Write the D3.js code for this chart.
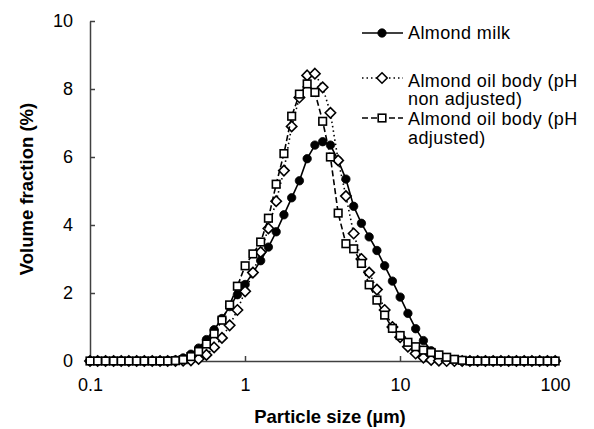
<!DOCTYPE html>
<html>
<head>
<meta charset="utf-8">
<script src="https://cdn.jsdelivr.net/npm/d3@7"></script>
<style>
  body { margin: 0; background: #fff; }
  text { font-family: "Liberation Sans", Arial, sans-serif; fill: #000; }
</style>
</head>
<body>
<svg id="chart" width="594" height="429"></svg>
<script>

// particle size classes (µm)
const sizes = [ 0.100, 0.112, 0.126, 0.142, 0.159, 0.178, 0.200, 0.224, 0.252, 0.283,
  0.317, 0.356, 0.399, 0.448, 0.502, 0.564, 0.632, 0.710, 0.796, 0.893,
  1.002, 1.125, 1.262, 1.416, 1.589, 1.783, 2.000, 2.244, 2.518, 2.825,
  3.170, 3.557, 3.991, 4.477, 5.024, 5.637, 6.325, 7.096, 7.962, 8.934,
  10.024, 11.247, 12.619, 14.159, 15.887, 17.825, 20.000, 22.440, 25.179, 28.251,
  31.698, 35.566, 39.905, 44.774, 50.238, 56.368, 63.246, 70.963, 79.621, 89.337,
  100.237 ];

const almondMilk = [ 0, 0, 0, 0, 0, 0, 0, 0, 0, 0,
  0.01, 0.03, 0.09, 0.2, 0.38, 0.63, 0.92, 1.25, 1.6, 1.95,
  2.25, 2.6, 2.95, 3.35, 3.8, 4.3, 4.8, 5.3, 5.95, 6.35,
  6.45, 6.35, 5.9, 5.35, 4.55, 4.05, 3.65, 3.25, 2.8, 2.35,
  1.88, 1.4, 0.95, 0.6, 0.3, 0.12, 0.04, 0.01, 0, 0,
  0, 0, 0, 0, 0, 0, 0, 0, 0, 0,
  0 ];

const oilBodyNonAdj = [ 0, 0, 0, 0, 0, 0, 0, 0, 0, 0,
  0, 0, 0.01, 0.02, 0.06, 0.18, 0.4, 0.68, 1.05, 1.5,
  2.05, 2.6, 3.2, 3.9, 4.7, 5.6, 6.9, 7.75, 8.4, 8.45,
  8.05, 7.3, 5.9, 4.85, 3.75, 3.0, 2.6, 2.1, 1.5, 1.0,
  0.7, 0.42, 0.22, 0.1, 0.03, 0.01, 0, 0, 0, 0,
  0, 0, 0, 0, 0, 0, 0, 0, 0, 0,
  0 ];

const oilBodyAdj = [ 0, 0, 0, 0, 0, 0, 0, 0, 0, 0,
  0, 0.01, 0.04, 0.13, 0.28, 0.5, 0.8, 1.2, 1.65, 2.2,
  2.8, 3.15, 3.5, 4.2, 5.2, 6.1, 7.2, 7.85, 8.15, 7.9,
  7.05, 6.0, 4.35, 3.45, 3.3, 2.87, 2.24, 1.79, 1.35, 0.96,
  0.75, 0.55, 0.42, 0.32, 0.25, 0.18, 0.11, 0.05, 0.02, 0,
  0, 0, 0, 0, 0, 0, 0, 0, 0, 0,
  0 ];

const xTicks = [ 0.1, 1, 10, 100 ];
const yTicks = [ 0, 2, 4, 6, 8, 10 ];

const seriesNames = [ "Almond milk", "Almond oil body (pH non adjusted)", "Almond oil body (pH adjusted)" ];

const svg = d3.select( "#chart" );

const x = d3.scaleLog().domain( [ 0.1, 100 ] ).range( [ 90, 555 ] );
const y = d3.scaleLinear().domain( [ 0, 10 ] ).range( [ 361, 21 ] );

const axisColor = "#404040";

// axes ( ticks pointing inside )
const xAxis = svg.append( "g" )
  .attr( "transform", "translate(0," + y( 0 ) + ")" )
  .call( d3.axisBottom( x ).tickValues( xTicks ).tickSizeInner( -5 ).tickSizeOuter( 0 ).tickPadding( 17 )
    .tickFormat( d3.format( "" ) ) );

const yAxis = svg.append( "g" )
  .attr( "transform", "translate(" + x( 0.1 ) + ",0)" )
  .call( d3.axisLeft( y ).tickValues( yTicks ).tickSizeInner( -5 ).tickSizeOuter( 0 ).tickPadding( 17 ) );

[ xAxis, yAxis ].forEach( g => {
  g.select( ".domain" ).attr( "stroke", axisColor ).attr( "stroke-width", 1.5 );
  g.selectAll( ".tick line" ).attr( "stroke", axisColor ).attr( "stroke-width", 1.5 );
  g.selectAll( ".tick text" )
    .style( "font-family", "'Liberation Sans', Arial, sans-serif" )
    .style( "font-size", "18px" )
    .attr( "fill", "#000" );
} );
xAxis.select( ".tick:first-of-type line" ).remove();
yAxis.select( ".tick:first-of-type line" ).remove();

// axis titles
svg.append( "text" )
  .attr( "x", 330 )
  .attr( "y", 423 )
  .attr( "text-anchor", "middle" )
  .style( "font-size", "18.5px" )
  .style( "font-weight", "bold" )
  .text( "Particle size (µm)" );

svg.append( "text" )
  .attr( "transform", "translate(33,189) rotate(-90)" )
  .attr( "text-anchor", "middle" )
  .style( "font-size", "18.5px" )
  .style( "font-weight", "bold" )
  .text( "Volume fraction (%)" );

// series
const series = [
  { name: seriesNames[ 0 ], values: almondMilk, dash: null, symbol: "circle" },
  { name: seriesNames[ 1 ], values: oilBodyNonAdj, dash: "1.5,3", symbol: "diamond" },
  { name: seriesNames[ 2 ], values: oilBodyAdj, dash: "6,3", symbol: "square" }
];

const line = d3.line()
  .x( d => x( d[ 0 ] ) )
  .y( d => y( d[ 1 ] ) );

function drawSymbol( g, type, px, py ) {
  if( type === "circle" ) {
    g.append( "circle" )
      .attr( "cx", px ).attr( "cy", py ).attr( "r", 4.2 )
      .attr( "fill", "#000" ).attr( "stroke", "#000" ).attr( "stroke-width", 0.8 );
  } else if( type === "diamond" ) {
    g.append( "path" )
      .attr( "d", "M" + px + "," + ( py - 5.2 ) + "L" + ( px + 5.2 ) + "," + py +
        "L" + px + "," + ( py + 5.2 ) + "L" + ( px - 5.2 ) + "," + py + "Z" )
      .attr( "fill", "#fff" ).attr( "stroke", "#000" ).attr( "stroke-width", 1.6 );
  } else {
    g.append( "rect" )
      .attr( "x", px - 3.8 ).attr( "y", py - 3.8 ).attr( "width", 7.6 ).attr( "height", 7.6 )
      .attr( "fill", "#fff" ).attr( "stroke", "#000" ).attr( "stroke-width", 1.6 );
  }
}

series.forEach( s => {

  const pts = sizes.map( ( v, i ) => [ v, s.values[ i ] ] );

  const g = svg.append( "g" );

  g.append( "path" )
    .datum( pts )
    .attr( "d", line )
    .attr( "fill", "none" )
    .attr( "stroke", "#000" )
    .attr( "stroke-width", 1.6 )
    .attr( "stroke-dasharray", s.dash );

  pts.forEach( p => drawSymbol( g, s.symbol, x( p[ 0 ] ), y( p[ 1 ] ) ) );

} );

// legend
const legend = [
  { s: series[ 0 ], y: 33, text: [ 39 ], lines: [ "Almond milk" ] },
  { s: series[ 1 ], y: 78, text: [ 86.5, 105 ], lines: [ "Almond oil body (pH", "non adjusted)" ] },
  { s: series[ 2 ], y: 118, text: [ 125, 144 ], lines: [ "Almond oil body (pH", "adjusted)" ] }
];

legend.forEach( l => {

  const g = svg.append( "g" );

  g.append( "line" )
    .attr( "x1", 362 ).attr( "x2", 403 )
    .attr( "y1", l.y ).attr( "y2", l.y )
    .attr( "stroke", "#000" )
    .attr( "stroke-width", 1.6 )
    .attr( "stroke-dasharray", l.s.dash );

  drawSymbol( g, l.s.symbol, 382, l.y );

  l.lines.forEach( ( t, i ) => {
    g.append( "text" )
      .attr( "x", 408 )
      .attr( "y", l.text[ i ] )
      .style( "font-size", "18px" )
      .style( "letter-spacing", "0.4px" )
      .text( t );
  } );

} );

</script>
</body>
</html>
